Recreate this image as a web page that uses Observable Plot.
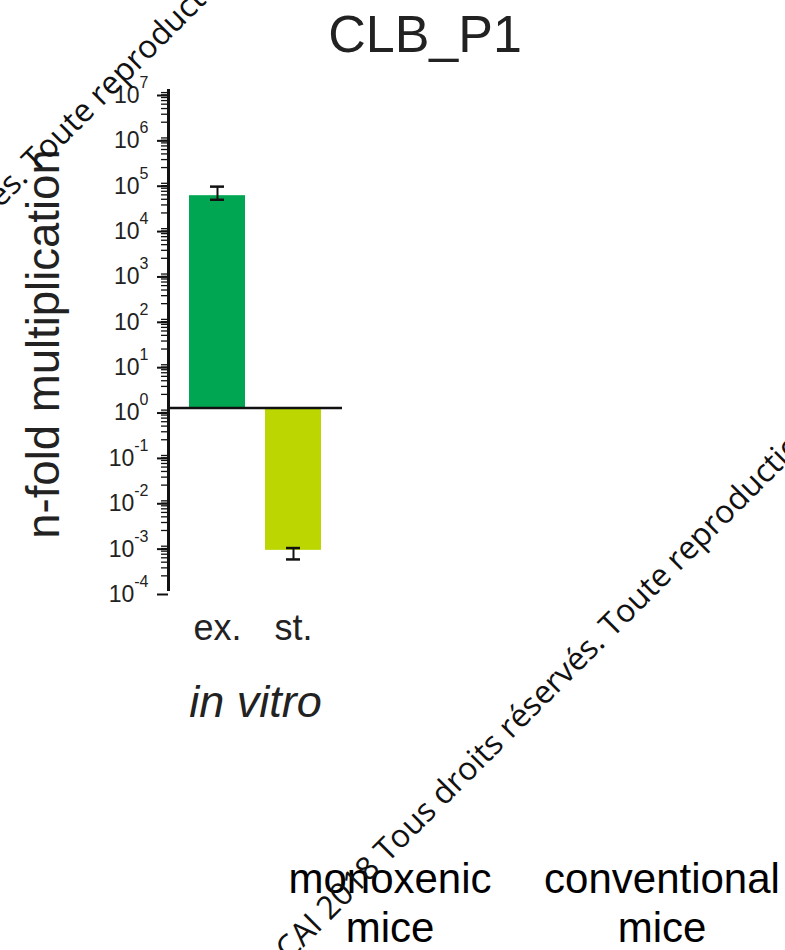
<!DOCTYPE html>
<html><head><meta charset="utf-8">
<script src="https://cdn.jsdelivr.net/npm/d3@7"></script>
<script src="https://cdn.jsdelivr.net/npm/@observablehq/plot@0.6"></script>
<style>
html,body{margin:0;padding:0;background:#fff;}
#wrap{position:relative;width:785px;height:950px;overflow:hidden;background:#fff;}
#overlay{position:absolute;left:0;top:0;pointer-events:none;}
</style></head><body><div id="wrap"></div>
<script>
// ---- data ----
const categories = ["ex.", "st."];
const means = [4.8e4, 7.3e-4];
const errLow = [3.9e4, 4.6e-4];
const errHigh = [7.6e4, 8.2e-4];
const barColors = ["#00a651", "#bbd600"];
const baseline = 1;
const majorTicks = [1e-4, 1e-3, 1e-2, 1e-1, 1e0, 1e1, 1e2, 1e3, 1e4, 1e5, 1e6, 1e7];
const title = "CLB_P1";
const yLabel = "n-fold multiplication";
const xLabel = "in vitro";
const groupLabels = [["monoxenic", "mice"], ["conventional", "mice"]];
const watermark = "CAI 2018 Tous droits réservés. Toute reproduction même partielle interdite";

const data = categories.map((c, i) => ({cat: c, mean: means[i], lo: errLow[i], hi: errHigh[i], base: baseline}));
const minorTicks = majorTicks.slice(0, -1).flatMap(m => [2,3,4,5,6,7,8,9].map(k => k * m));

const chart = Plot.plot({
  width: 785,
  height: 950,
  marginLeft: 168,
  marginRight: 443,
  marginTop: 90,
  marginBottom: 361,
  style: {fontFamily: "'Liberation Sans', Arial, sans-serif", color: "#222", background: "transparent", overflow: "visible"},
  x: {domain: categories, paddingInner: 0.263, paddingOuter: 0.276},
  y: {type: "log", domain: [1e-4, 1e7]},
  color: {domain: categories, range: barColors},
  marks: [
    Plot.barY(data, {x: "cat", y1: "base", y2: "mean", fill: "cat"}),
    Plot.ruleY([baseline], {stroke: "#111", strokeWidth: 2.5}),
    Plot.ruleX(data, {x: "cat", y1: "lo", y2: "hi", stroke: "#111", strokeWidth: 2}),
    Plot.tickY(data, {x: "cat", y: "lo", inset: 21, stroke: "#111", strokeWidth: 2.5}),
    Plot.tickY(data, {x: "cat", y: "hi", inset: 21, stroke: "#111", strokeWidth: 2.5}),
    Plot.axisY({ticks: minorTicks, tickSize: 7, tickFormat: () => "", strokeWidth: 1.3, stroke: "#111", label: null}),
    Plot.axisY({ticks: majorTicks, tickSize: 11, tickPadding: 9, fontSize: 23, dy: 5, strokeWidth: 2, stroke: "#111",
      tickFormat: d => "10^" + Math.round(Math.log10(d)), label: null}),
    Plot.text([yLabel], {frameAnchor: "left", textAnchor: "middle", rotate: -90, lineAnchor: "top", dx: -142, dy: 4, fontSize: 45.5, fill: "#222"}),
    Plot.axisX({tickSize: 0, tickPadding: 25, fontSize: 36, label: null}),
    Plot.axisX({ticks: [], label: xLabel, labelAnchor: "center", labelOffset: 127, fontSize: 45, fontStyle: "italic", labelArrow: false}),
    Plot.frame({anchor: "left", stroke: "#111", strokeWidth: 3})
  ]
});

// superscript exponents on log tick labels
const ns = "http://www.w3.org/2000/svg";
chart.querySelectorAll('g[aria-label="y-axis tick label"] text').forEach(t => {
  const parts = t.textContent.split("^");
  if (parts.length < 2) return;
  t.textContent = "";
  t.setAttribute("font-size", "23");
  const b = document.createElementNS(ns, "tspan");
  b.setAttribute("font-size", "23");
  b.textContent = parts[0];
  const e = document.createElementNS(ns, "tspan");
  e.setAttribute("dy", "-15");
  e.setAttribute("font-size", "16");
  e.textContent = parts[1];
  t.append(b, e);
});

const wrap = document.getElementById("wrap");
wrap.appendChild(chart);

// overlay: title, group labels, watermark text
const ov = d3.select(wrap).append("svg").attr("id", "overlay").attr("width", 785).attr("height", 950)
  .style("font-family", "'Liberation Sans', Arial, sans-serif");
ov.append("text").attr("x", 425).attr("y", 52).attr("text-anchor", "middle")
  .attr("font-size", 52).attr("fill", "#222").text(title);
const groupX = [390, 662];
groupLabels.forEach((lines, i) => {
  lines.forEach((ln, j) => {
    ov.append("text").attr("x", groupX[i]).attr("y", 893 + j * 49).attr("text-anchor", "middle")
      .attr("font-size", 42).attr("fill", "#000").text(ln);
  });
});
[[289, 962], [-288, 497]].forEach(([x, y]) => {
  ov.append("text").attr("x", x).attr("y", y).attr("transform", `rotate(-45 ${x} ${y})`)
    .attr("font-family", "'Open Sans', sans-serif").attr("font-size", 32).attr("fill", "#111").text(watermark);
});
</script></body></html>
